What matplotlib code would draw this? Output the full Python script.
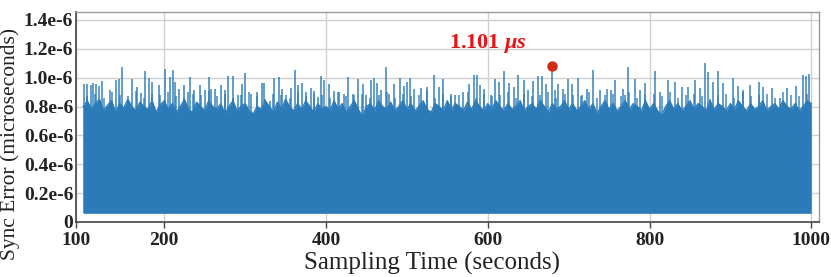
import matplotlib
matplotlib.use("Agg")
import matplotlib.pyplot as plt
import numpy as np

# ---------------- data ----------------
x_tick_labels = ['100', '200', '400', '600', '800', '1000']
y_tick_values = [0, 0.2e-6, 0.4e-6, 0.6e-6, 0.8e-6, 1.0e-6, 1.2e-6, 1.4e-6]
y_tick_labels = ['0', '0.2e-6', '0.4e-6', '0.6e-6', '0.8e-6', '1.0e-6', '1.2e-6', '1.4e-6']

t_start, t_end = 100, 1000
floor_level = 0.06e-6

# dense body top (every 5 s from 100 s to 1000 s), in units of 1e-6
body_top = [
    0.80, 0.84, 0.78, 0.82, 0.85, 0.77, 0.81, 0.84, 0.76, 0.82, 0.79, 0.85, 0.80, 0.77, 0.83, 0.80, 0.78, 0.84, 0.76, 0.81,
    0.84, 0.78, 0.82, 0.76, 0.80, 0.85, 0.78, 0.76, 0.83, 0.80, 0.77, 0.84, 0.80, 0.78, 0.82, 0.75, 0.80, 0.84, 0.77, 0.80,
    0.82, 0.77, 0.75, 0.80, 0.78, 0.84, 0.80, 0.76, 0.83, 0.78, 0.85, 0.80, 0.77, 0.82, 0.78, 0.84, 0.80, 0.76, 0.82, 0.78,
    0.80, 0.77, 0.84, 0.78, 0.82, 0.76, 0.80, 0.84, 0.78, 0.73, 0.80, 0.82, 0.77, 0.84, 0.80, 0.78, 0.83, 0.77, 0.80, 0.84,
    0.78, 0.82, 0.77, 0.80, 0.84, 0.78, 0.76, 0.82, 0.80, 0.77, 0.84, 0.78, 0.82, 0.80, 0.77, 0.83, 0.78, 0.84, 0.80, 0.77,
    0.82, 0.78, 0.84, 0.80, 0.77, 0.82, 0.78, 0.80, 0.84, 0.77, 0.80, 0.82, 0.78, 0.84, 0.80, 0.76, 0.82, 0.78, 0.80, 0.84,
    0.78, 0.82, 0.77, 0.80, 0.84, 0.78, 0.82, 0.75, 0.80, 0.84, 0.78, 0.82, 0.77, 0.80, 0.84, 0.78, 0.82, 0.80, 0.77, 0.84,
    0.78, 0.82, 0.77, 0.74, 0.80, 0.84, 0.78, 0.82, 0.77, 0.80, 0.84, 0.78, 0.82, 0.80, 0.77, 0.84, 0.78, 0.82, 0.80, 0.77,
    0.82, 0.78, 0.84, 0.80, 0.77, 0.82, 0.78, 0.80, 0.84, 0.77, 0.80, 0.82, 0.78, 0.84, 0.80, 0.78, 0.82, 0.77, 0.80, 0.84, 0.82,
]

# medium spikes in the ragged band (every 10 s, offset 5 s), in units of 1e-6
minor_spike_value = [
    0.87, 0.89, 0.86, 0.90, 0.88, 0.87, 0.91, 0.86, 0.89, 0.88, 0.90, 0.87, 0.86, 0.89, 0.88, 0.91, 0.87, 0.89,
    0.86, 0.88, 0.90, 0.87, 0.85, 0.89, 0.88, 0.86, 0.90, 0.87, 0.89, 0.88, 0.86, 0.90, 0.87, 0.88, 0.89, 0.86,
    0.88, 0.90, 0.86, 0.89, 0.87, 0.88, 0.91, 0.86, 0.89, 0.87, 0.88, 0.90, 0.86, 0.89, 0.87, 0.88, 0.90, 0.86,
    0.89, 0.87, 0.88, 0.90, 0.86, 0.89, 0.88, 0.87, 0.90, 0.86, 0.88, 0.89, 0.87, 0.90, 0.86, 0.88, 0.89, 0.87,
    0.90, 0.86, 0.88, 0.89, 0.87, 0.85, 0.88, 0.89, 0.86, 0.90, 0.87, 0.88, 0.89, 0.86, 0.90, 0.88, 0.87, 0.89,
]

# individual tall spikes: time (s) and value (1e-6)
spike_time = [
    100.6, 104.0, 109.7, 112.0, 116.0, 120.0, 123.0, 133.6, 141.0, 144.0, 147.6, 160.0, 165.8, 171.5, 176.0, 181.4, 184.3, 193.0, 201.0, 207.0,
    210.7, 213.6, 217.7, 225.0, 229.0, 232.4, 236.3, 244.5, 250.0, 254.9, 257.3, 262.3, 270.5, 274.6, 278.7, 285.3, 291.1, 296.0, 299.3, 306.8, 314.6, 320.8,
    323.3, 330.7, 335.6, 341.4, 345.5, 350.5, 356.2, 361.2, 365.3, 370.6, 374.8, 381.0, 385.1, 390.0, 394.1, 397.5, 403.7, 409.8, 416.0, 422.2, 427.2, 433.7,
    439.1, 445.3, 449.4, 456.0, 459.7, 462.6, 468.0, 473.8, 477.5, 484.5, 491.9, 496.8, 499.8, 504.2, 509.2, 517.4, 524.9, 533.1, 539.3, 545.0,
    554.2, 559.1, 569.4, 576.4, 583.0, 586.3, 590.0, 595.4, 604.4, 608.6, 613.5, 619.7, 626.7, 632.5, 637.4, 644.8, 649.8, 656.0, 662.2,
    666.7, 672.0, 679.0, 683.2, 687.3, 692.7, 699.7, 704.6, 712.0, 716.2, 722.4, 729.8, 738.8, 747.1, 752.4, 757.4, 766.9, 769.8, 773.8,
    782.1, 788.3, 794.5, 806.9, 813.1, 823.3, 831.6, 839.9, 848.1, 856.4, 862.5, 868.3, 872.8, 879.0, 885.2, 891.4, 903.0, 910.0, 916.1,
    924.4, 935.9, 940.8, 951.2, 961.5, 970.5, 981.3, 989.5, 993.6, 997.7,
]
spike_value = [
    0.954, 0.954, 0.947, 0.965, 0.958, 0.942, 0.975, 0.917, 0.984, 0.993, 1.074, 0.991, 0.935, 0.894, 1.046, 1.000, 0.970, 0.947, 1.062, 1.005,
    1.055, 0.970, 0.924, 0.952, 0.900, 1.007, 0.912, 0.952, 0.917, 1.005, 0.924, 0.924, 0.947, 0.912, 1.011, 1.011, 0.878, 0.954, 1.032, 0.889, 0.900, 0.965,
    0.965, 0.836, 0.998, 1.005, 0.924, 0.878, 0.928, 1.051, 0.947, 0.963, 0.900, 0.931, 0.908, 0.866, 1.011, 0.982, 0.954, 0.908, 0.900, 0.889, 1.002, 0.889,
    0.993, 0.958, 0.878, 0.986, 1.000, 0.965, 0.912, 1.076, 0.889, 0.958, 1.000, 0.940, 0.970, 1.000, 0.924, 0.931, 0.935, 1.016, 0.935, 0.993,
    0.889, 0.878, 0.900, 0.954, 1.021, 1.016, 0.952, 0.924, 0.878, 0.993, 0.970, 1.044, 0.963, 0.935, 1.021, 0.982, 0.912, 0.975, 1.009,
    1.009, 0.958, 1.082, 0.912, 0.954, 0.924, 0.993, 0.958, 1.000, 0.878, 0.924, 1.055, 0.912, 0.924, 0.912, 0.982, 0.924, 0.878, 1.074,
    0.994, 0.918, 0.960, 1.047, 0.902, 0.983, 0.971, 0.936, 0.932, 0.983, 0.925, 1.105, 1.040, 0.971, 1.047, 0.960, 1.001, 0.941, 0.913,
    0.948, 0.971, 0.936, 0.925, 0.856, 0.925, 0.941, 1.017, 1.010, 1.024,
]

peak_time = 679.0
peak_value = 1.082e-6
peak_label = '1.101'
peak_unit = r'$\mu s$'

# ---------------- style ----------------
plt.rcParams['font.family'] = ['Liberation Serif', 'DejaVu Serif']
plt.rcParams['mathtext.fontset'] = 'custom'
plt.rcParams['mathtext.it'] = 'Liberation Serif:italic:bold'
plt.rcParams['mathtext.rm'] = 'Liberation Serif:bold'

blue = '#2b7bb9'

fig = plt.figure(figsize=(8.31, 2.77), dpi=100)
ax = fig.add_axes([0.0915, 0.1986, 0.8945, 0.757])

body_t = np.linspace(t_start, t_end, len(body_top))
body_v = np.array(body_top) * 1e-6
ax.fill_between(body_t, floor_level, body_v, color=blue, linewidth=0, zorder=2)
ax.plot(body_t, body_v, color=blue, linewidth=1.0, zorder=2)

minor_t = np.linspace(t_start + 5, t_end - 5, len(minor_spike_value))
ax.vlines(minor_t, floor_level, np.array(minor_spike_value) * 1e-6, color=blue,
          linewidth=1.3, alpha=0.75, zorder=2)
ax.vlines(spike_time, floor_level, np.array(spike_value) * 1e-6, color=blue,
          linewidth=1.3, alpha=0.8, zorder=2)

ax.plot([peak_time], [peak_value], 'o', color='#d42a12', markersize=6.5, zorder=4)
ax.text(600, 1.24e-6, peak_label + ' ' + peak_unit, color='#ee1111', fontsize=16,
        fontweight='bold', ha='center', va='center', zorder=5)

x_left, x_right = 91, 1010
ax.set_xlim(x_left, x_right)
ax.set_ylim(0, 1.453e-6)

x_tick_pos = [x_left] + [int(s) for s in x_tick_labels[1:]]
ax.set_xticks(x_tick_pos)
ax.set_xticklabels(x_tick_labels, fontsize=14, fontweight='bold', color='#222222')
ax.set_yticks(y_tick_values)
ax.set_yticklabels(y_tick_labels, fontsize=14, fontweight='bold', color='#222222')

ax.tick_params(axis='x', length=4, width=1, color='#444444', pad=3)
ax.tick_params(axis='y', length=0, pad=2)

ax.grid(True, color='#cfcfcf', linewidth=1.0, zorder=0)
ax.set_axisbelow(True)

for side in ['left', 'bottom']:
    ax.spines[side].set_color('#444444')
    ax.spines[side].set_linewidth(1.2)
for side in ['top', 'right']:
    ax.spines[side].set_color('#999999')
    ax.spines[side].set_linewidth(1.0)

ax.set_xlabel('Sampling Time (seconds)', fontsize=18, color='#222222', va='top')
ax.xaxis.set_label_coords(0.479, -0.145)
ax.set_ylabel('Sync Error (microseconds)', fontsize=15.5, color='#222222')
ax.yaxis.set_label_coords(-0.075, 0.37)

fig.savefig('out.png', dpi=100)
